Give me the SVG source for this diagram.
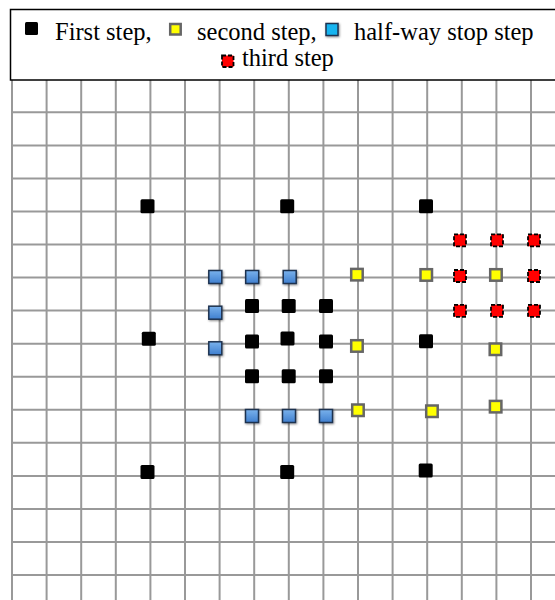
<svg xmlns="http://www.w3.org/2000/svg" width="555" height="600" viewBox="0 0 555 600">
  <style>
    .grid line { stroke: #999999; stroke-width: 2; }
    .blk { fill: #000000; }
    .yel { fill: #ffff00; stroke: #666666; stroke-width: 2.5; }
    .blu { fill: url(#bluGrad); stroke: #1e3350; stroke-width: 1.5; filter: url(#shadow); }
    .blu2 { fill: #14b4f0; stroke: #1e3350; stroke-width: 1.5; filter: url(#shadow); }
    .red { fill: #ff0000; stroke: #000000; stroke-width: 1.8; stroke-dasharray: 4 2; }
    .lbl { font-family: "Liberation Serif", "Times New Roman", serif; font-size: 24.5px; fill: #000000; }
  </style>
  <defs>
    <linearGradient id="bluGrad" x1="0" y1="0" x2="0" y2="1">
      <stop offset="0" stop-color="#7ab2ec"/>
      <stop offset="1" stop-color="#3f7fcf"/>
    </linearGradient>
    <filter id="shadow" x="-30%" y="-30%" width="160%" height="160%">
      <feDropShadow dx="0.8" dy="1" stdDeviation="0.8" flood-color="#000000" flood-opacity="0.45"/>
    </filter>
  </defs>
  <rect x="0" y="0" width="555" height="600" fill="#ffffff"/>

  <g id="grid" class="grid">
    <line x1="12" y1="80" x2="12" y2="600"/>
    <line x1="46.6" y1="80" x2="46.6" y2="600"/>
    <line x1="81.2" y1="80" x2="81.2" y2="600"/>
    <line x1="115.8" y1="80" x2="115.8" y2="600"/>
    <line x1="150.4" y1="80" x2="150.4" y2="600"/>
    <line x1="185" y1="80" x2="185" y2="600"/>
    <line x1="219.6" y1="80" x2="219.6" y2="600"/>
    <line x1="254.2" y1="80" x2="254.2" y2="600"/>
    <line x1="288.8" y1="80" x2="288.8" y2="600"/>
    <line x1="323.4" y1="80" x2="323.4" y2="600"/>
    <line x1="358" y1="80" x2="358" y2="600"/>
    <line x1="392.6" y1="80" x2="392.6" y2="600"/>
    <line x1="427.2" y1="80" x2="427.2" y2="600"/>
    <line x1="461.8" y1="80" x2="461.8" y2="600"/>
    <line x1="496.4" y1="80" x2="496.4" y2="600"/>
    <line x1="531" y1="80" x2="531" y2="600"/>
    <line x1="12" y1="112.3" x2="555" y2="112.3"/>
    <line x1="12" y1="145.4" x2="555" y2="145.4"/>
    <line x1="12" y1="178.4" x2="555" y2="178.4"/>
    <line x1="12" y1="211.5" x2="555" y2="211.5"/>
    <line x1="12" y1="244.5" x2="555" y2="244.5"/>
    <line x1="12" y1="277.6" x2="555" y2="277.6"/>
    <line x1="12" y1="310.6" x2="555" y2="310.6"/>
    <line x1="12" y1="343.7" x2="555" y2="343.7"/>
    <line x1="12" y1="376.7" x2="555" y2="376.7"/>
    <line x1="12" y1="409.8" x2="555" y2="409.8"/>
    <line x1="12" y1="442.8" x2="555" y2="442.8"/>
    <line x1="12" y1="475.9" x2="555" y2="475.9"/>
    <line x1="12" y1="508.9" x2="555" y2="508.9"/>
    <line x1="12" y1="542" x2="555" y2="542"/>
    <line x1="12" y1="575" x2="555" y2="575"/>
  </g>

  <g id="legend">
    <rect x="10.5" y="9.5" width="560" height="70.5" fill="#ffffff" stroke="#000000" stroke-width="1.5"/>
    <rect class="blk" x="25" y="22" width="13" height="13" rx="1.5"/>
    <text class="lbl" x="55" y="39.5">First step,</text>
    <rect class="yel" x="170.2" y="24" width="10.5" height="10.5"/>
    <text class="lbl" x="197" y="39.5">second step,</text>
    <rect class="blu2" x="326" y="23.5" width="12" height="12"/>
    <text class="lbl" x="354" y="39.5">half-way stop step</text>
    <rect class="red" x="222" y="55.5" width="11.5" height="11.5"/>
    <text class="lbl" x="242" y="66">third step</text>
  </g>

  <g id="first-step">
    <rect class="blk" x="140.5" y="199.3" width="14" height="14" rx="1.5"/>
    <rect class="blk" x="280.2" y="199.3" width="14" height="14" rx="1.5"/>
    <rect class="blk" x="419" y="199.3" width="14" height="14" rx="1.5"/>
    <rect class="blk" x="141.8" y="331.8" width="14" height="14" rx="1.5"/>
    <rect class="blk" x="419" y="334.2" width="14" height="14" rx="1.5"/>
    <rect class="blk" x="140.5" y="465" width="14" height="14" rx="1.5"/>
    <rect class="blk" x="280.2" y="465" width="14" height="14" rx="1.5"/>
    <rect class="blk" x="418.7" y="463.5" width="14" height="14" rx="1.5"/>
    <rect class="blk" x="245" y="299" width="14" height="14" rx="1.5"/>
    <rect class="blk" x="281.7" y="299" width="14" height="14" rx="1.5"/>
    <rect class="blk" x="319" y="299" width="14" height="14" rx="1.5"/>
    <rect class="blk" x="245" y="334.5" width="14" height="14" rx="1.5"/>
    <rect class="blk" x="280.5" y="331.5" width="14" height="14" rx="1.5"/>
    <rect class="blk" x="319" y="334.5" width="14" height="14" rx="1.5"/>
    <rect class="blk" x="245" y="369.3" width="14" height="14" rx="1.5"/>
    <rect class="blk" x="281.7" y="369.3" width="14" height="14" rx="1.5"/>
    <rect class="blk" x="319" y="369.3" width="14" height="14" rx="1.5"/>
  </g>

  <g id="half-way-stop-step">
    <rect class="blu" x="208.8" y="270.5" width="13" height="13"/>
    <rect class="blu" x="245.7" y="270.5" width="13" height="13"/>
    <rect class="blu" x="283.2" y="270.5" width="13" height="13"/>
    <rect class="blu" x="208.8" y="306.2" width="13" height="13"/>
    <rect class="blu" x="208.8" y="341.8" width="13" height="13"/>
    <rect class="blu" x="245.5" y="409.5" width="13" height="13"/>
    <rect class="blu" x="282.5" y="409.5" width="13" height="13"/>
    <rect class="blu" x="319.5" y="409.5" width="13" height="13"/>
  </g>

  <g id="second-step">
    <rect class="yel" x="351.2" y="268.9" width="11.5" height="11.5"/>
    <rect class="yel" x="351.2" y="340.2" width="11.5" height="11.5"/>
    <rect class="yel" x="352.2" y="404.5" width="11.5" height="11.5"/>
    <rect class="yel" x="420.5" y="269.2" width="11.5" height="11.5"/>
    <rect class="yel" x="490.2" y="269.2" width="11.5" height="11.5"/>
    <rect class="yel" x="426.2" y="405.5" width="11.5" height="11.5"/>
    <rect class="yel" x="489.9" y="400.9" width="11.5" height="11.5"/>
    <rect class="yel" x="489.7" y="343.5" width="11.5" height="11.5"/>
  </g>

  <g id="third-step">
    <rect class="red" x="454" y="234.3" width="12" height="12"/>
    <rect class="red" x="491" y="234.3" width="12" height="12"/>
    <rect class="red" x="528" y="234.3" width="12" height="12"/>
    <rect class="red" x="454" y="270" width="12" height="12"/>
    <rect class="red" x="528" y="270" width="12" height="12"/>
    <rect class="red" x="454" y="304.8" width="12" height="12"/>
    <rect class="red" x="491" y="304.8" width="12" height="12"/>
    <rect class="red" x="528" y="304.8" width="12" height="12"/>
  </g>
</svg>
